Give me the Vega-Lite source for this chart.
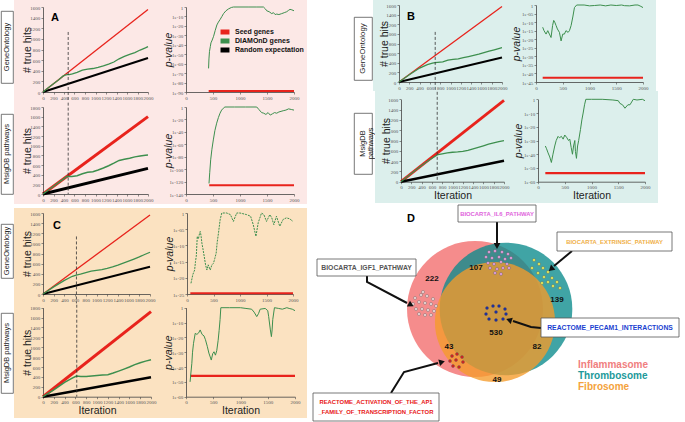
{
"$schema": "https://vega.github.io/schema/vega-lite/v6.json",
"background": "white",
"padding": {"left": 0, "top": 0, "right": 0, "bottom": 0},
"config": {
  "view": {"stroke": null},
  "font": "Liberation Sans",
  "axis": {"labelFont": "Liberation Serif", "labelFontSize": 5, "labelColor": "#555", "domainColor": "#444", "domainWidth": 0.8, "tickColor": "#444", "tickSize": 2, "tickWidth": 0.6, "labelPadding": 1.2, "titleFont": "Liberation Sans", "titleFontSize": 10.5, "titleFontWeight": "normal", "titleColor": "#222", "grid": false, "labelOverlap": false, "labelFlush": false, "titlePadding": 0.5}
},
"datasets": {
  "aGoH": [
    {"i":0,"h":0,"s":"S"},{"i":2000,"h":1555,"s":"S"},
    {"i":0,"h":0,"s":"R"},{"i":2000,"h":640,"s":"R"},
    {"i":0,"h":0,"s":"D"},{"i":100,"h":78,"s":"D"},{"i":200,"h":155,"s":"D"},{"i":300,"h":232,"s":"D"},{"i":380,"h":298,"s":"D"},{"i":420,"h":318,"s":"D"},{"i":460,"h":326,"s":"D"},{"i":500,"h":328,"s":"D"},{"i":560,"h":342,"s":"D"},{"i":650,"h":368,"s":"D"},{"i":750,"h":410,"s":"D"},{"i":850,"h":430,"s":"D"},{"i":950,"h":442,"s":"D"},{"i":1050,"h":462,"s":"D"},{"i":1150,"h":492,"s":"D"},{"i":1250,"h":525,"s":"D"},{"i":1350,"h":565,"s":"D"},{"i":1450,"h":625,"s":"D"},{"i":1550,"h":672,"s":"D"},{"i":1650,"h":710,"s":"D"},{"i":1750,"h":742,"s":"D"},{"i":1850,"h":790,"s":"D"},{"i":1950,"h":832,"s":"D"},{"i":2000,"h":855,"s":"D"}
  ],
  "aMsH": [
    {"i":0,"h":0,"s":"S"},{"i":2000,"h":1600,"s":"S"},
    {"i":0,"h":0,"s":"R"},{"i":2000,"h":530,"s":"R"},
    {"i":0,"h":0,"s":"D"},{"i":200,"h":160,"s":"D"},{"i":400,"h":320,"s":"D"},{"i":460,"h":368,"s":"D"},{"i":490,"h":360,"s":"D"},{"i":550,"h":362,"s":"D"},{"i":650,"h":378,"s":"D"},{"i":750,"h":418,"s":"D"},{"i":850,"h":448,"s":"D"},{"i":950,"h":462,"s":"D"},{"i":1050,"h":498,"s":"D"},{"i":1150,"h":538,"s":"D"},{"i":1250,"h":585,"s":"D"},{"i":1350,"h":638,"s":"D"},{"i":1450,"h":695,"s":"D"},{"i":1550,"h":718,"s":"D"},{"i":1650,"h":740,"s":"D"},{"i":1750,"h":768,"s":"D"},{"i":1850,"h":788,"s":"D"},{"i":1950,"h":803,"s":"D"},{"i":2000,"h":808,"s":"D"}
  ],
  "bGoH": [
    {"i":0,"h":0,"s":"S"},{"i":2000,"h":1570,"s":"S"},
    {"i":0,"h":0,"s":"R"},{"i":2000,"h":510,"s":"R"},
    {"i":0,"h":0,"s":"D"},{"i":200,"h":150,"s":"D"},{"i":400,"h":290,"s":"D"},{"i":550,"h":360,"s":"D"},{"i":650,"h":392,"s":"D"},{"i":700,"h":402,"s":"D"},{"i":750,"h":408,"s":"D"},{"i":850,"h":420,"s":"D"},{"i":950,"h":455,"s":"D"},{"i":1050,"h":470,"s":"D"},{"i":1150,"h":482,"s":"D"},{"i":1250,"h":505,"s":"D"},{"i":1350,"h":528,"s":"D"},{"i":1450,"h":552,"s":"D"},{"i":1550,"h":578,"s":"D"},{"i":1650,"h":610,"s":"D"},{"i":1750,"h":640,"s":"D"},{"i":1850,"h":670,"s":"D"},{"i":1950,"h":700,"s":"D"},{"i":2000,"h":712,"s":"D"}
  ],
  "bMsH": [
    {"i":0,"h":0,"s":"S"},{"i":2000,"h":1580,"s":"S"},
    {"i":0,"h":0,"s":"R"},{"i":2000,"h":408,"s":"R"},
    {"i":0,"h":0,"s":"D"},{"i":200,"h":160,"s":"D"},{"i":400,"h":315,"s":"D"},{"i":550,"h":420,"s":"D"},{"i":680,"h":505,"s":"D"},{"i":720,"h":528,"s":"D"},{"i":800,"h":542,"s":"D"},{"i":900,"h":558,"s":"D"},{"i":1000,"h":572,"s":"D"},{"i":1100,"h":578,"s":"D"},{"i":1200,"h":590,"s":"D"},{"i":1300,"h":610,"s":"D"},{"i":1400,"h":638,"s":"D"},{"i":1500,"h":668,"s":"D"},{"i":1600,"h":698,"s":"D"},{"i":1700,"h":728,"s":"D"},{"i":1800,"h":752,"s":"D"},{"i":1900,"h":778,"s":"D"},{"i":2000,"h":797,"s":"D"}
  ],
  "cGoH": [
    {"i":0,"h":0,"s":"S"},{"i":2000,"h":1560,"s":"S"},
    {"i":0,"h":0,"s":"R"},{"i":2000,"h":540,"s":"R"},
    {"i":0,"h":0,"s":"D"},{"i":200,"h":140,"s":"D"},{"i":400,"h":270,"s":"D"},{"i":550,"h":350,"s":"D"},{"i":620,"h":375,"s":"D"},{"i":700,"h":392,"s":"D"},{"i":800,"h":420,"s":"D"},{"i":900,"h":450,"s":"D"},{"i":1000,"h":468,"s":"D"},{"i":1100,"h":480,"s":"D"},{"i":1200,"h":505,"s":"D"},{"i":1300,"h":535,"s":"D"},{"i":1400,"h":570,"s":"D"},{"i":1500,"h":608,"s":"D"},{"i":1600,"h":648,"s":"D"},{"i":1700,"h":690,"s":"D"},{"i":1800,"h":732,"s":"D"},{"i":1900,"h":780,"s":"D"},{"i":2000,"h":825,"s":"D"}
  ],
  "cMsH": [
    {"i":0,"h":0,"s":"S"},{"i":2000,"h":1720,"s":"S"},
    {"i":0,"h":0,"s":"R"},{"i":2000,"h":395,"s":"R"},
    {"i":0,"h":0,"s":"D"},{"i":200,"h":140,"s":"D"},{"i":400,"h":290,"s":"D"},{"i":550,"h":380,"s":"D"},{"i":620,"h":418,"s":"D"},{"i":700,"h":408,"s":"D"},{"i":800,"h":410,"s":"D"},{"i":900,"h":418,"s":"D"},{"i":1000,"h":428,"s":"D"},{"i":1100,"h":438,"s":"D"},{"i":1200,"h":445,"s":"D"},{"i":1300,"h":478,"s":"D"},{"i":1400,"h":518,"s":"D"},{"i":1500,"h":558,"s":"D"},{"i":1600,"h":600,"s":"D"},{"i":1700,"h":648,"s":"D"},{"i":1800,"h":688,"s":"D"},{"i":1900,"h":720,"s":"D"},{"i":2000,"h":748,"s":"D"}
  ],
  "aGoP": [
    {"i":420,"p":-89,"s":"S"},{"i":2000,"p":-89,"s":"S"},
    {"i":418,"p":-65,"s":"D"},{"i":425,"p":-55,"s":"D"},{"i":435,"p":-47,"s":"D"},{"i":450,"p":-42,"s":"D"},{"i":462,"p":-38,"s":"D"},{"i":485,"p":-35,"s":"D"},{"i":511,"p":-31,"s":"D"},{"i":540,"p":-25,"s":"D"},{"i":572,"p":-19,"s":"D"},{"i":600,"p":-16,"s":"D"},{"i":634,"p":-13,"s":"D"},{"i":665,"p":-10,"s":"D"},{"i":695,"p":-7,"s":"D"},{"i":740,"p":-4,"s":"D"},{"i":788,"p":-2,"s":"D"},{"i":840,"p":-0.5,"s":"D"},{"i":880,"p":0,"s":"D"},{"i":1000,"p":0,"s":"D"},{"i":1150,"p":0,"s":"D"},{"i":1300,"p":0,"s":"D"},{"i":1434,"p":0,"s":"D"},{"i":1470,"p":-2,"s":"D"},{"i":1495,"p":-4,"s":"D"},{"i":1540,"p":-5,"s":"D"},{"i":1588,"p":-7,"s":"D"},{"i":1620,"p":-6,"s":"D"},{"i":1650,"p":-8,"s":"D"},{"i":1680,"p":-7.5,"s":"D"},{"i":1720,"p":-8,"s":"D"},{"i":1772,"p":-7,"s":"D"},{"i":1820,"p":-6,"s":"D"},{"i":1865,"p":-5,"s":"D"},{"i":1900,"p":-3.5,"s":"D"},{"i":1926,"p":-2.5,"s":"D"},{"i":1960,"p":-3,"s":"D"},{"i":2000,"p":-4,"s":"D"}
  ],
  "aMsP": [
    {"i":430,"p":-126,"s":"S"},{"i":2000,"p":-126,"s":"S"},
    {"i":426,"p":-123,"s":"D"},{"i":440,"p":-105,"s":"D"},{"i":457,"p":-85,"s":"D"},{"i":480,"p":-68,"s":"D"},{"i":506,"p":-53,"s":"D"},{"i":535,"p":-38,"s":"D"},{"i":568,"p":-26,"s":"D"},{"i":600,"p":-17,"s":"D"},{"i":630,"p":-10,"s":"D"},{"i":660,"p":-5,"s":"D"},{"i":691,"p":-2,"s":"D"},{"i":720,"p":0,"s":"D"},{"i":900,"p":0,"s":"D"},{"i":1100,"p":0,"s":"D"},{"i":1310,"p":0,"s":"D"},{"i":1350,"p":-4,"s":"D"},{"i":1400,"p":-9,"s":"D"},{"i":1440,"p":-10,"s":"D"},{"i":1480,"p":-12,"s":"D"},{"i":1520,"p":-9,"s":"D"},{"i":1560,"p":-13,"s":"D"},{"i":1600,"p":-11,"s":"D"},{"i":1640,"p":-9,"s":"D"},{"i":1680,"p":-10,"s":"D"},{"i":1720,"p":-8,"s":"D"},{"i":1760,"p":-7,"s":"D"},{"i":1800,"p":-6,"s":"D"},{"i":1850,"p":-5,"s":"D"},{"i":1900,"p":-3,"s":"D"},{"i":1950,"p":-4,"s":"D"},{"i":2000,"p":-5,"s":"D"}
  ],
  "bGoP": [
    {"i":125,"p":-42.5,"s":"S"},{"i":2000,"p":-42.5,"s":"S"},
    {"i":125,"p":-13,"s":"D"},{"i":150,"p":-15,"s":"D"},{"i":188,"p":-17,"s":"D"},{"i":220,"p":-15,"s":"D"},{"i":250,"p":-17,"s":"D"},{"i":281,"p":-19,"s":"D"},{"i":310,"p":-12,"s":"D"},{"i":331,"p":-9,"s":"D"},{"i":350,"p":-10,"s":"D"},{"i":375,"p":-12,"s":"D"},{"i":400,"p":-14,"s":"D"},{"i":438,"p":-16,"s":"D"},{"i":469,"p":-21,"s":"D"},{"i":500,"p":-17,"s":"D"},{"i":531,"p":-17,"s":"D"},{"i":560,"p":-15,"s":"D"},{"i":600,"p":-16,"s":"D"},{"i":625,"p":-15,"s":"D"},{"i":656,"p":-12,"s":"D"},{"i":688,"p":-7,"s":"D"},{"i":719,"p":-1.5,"s":"D"},{"i":760,"p":0,"s":"D"},{"i":900,"p":0,"s":"D"},{"i":1000,"p":-0.5,"s":"D"},{"i":1094,"p":-0.3,"s":"D"},{"i":1200,"p":0,"s":"D"},{"i":1300,"p":-0.5,"s":"D"},{"i":1400,"p":0,"s":"D"},{"i":1500,"p":-0.3,"s":"D"},{"i":1600,"p":0,"s":"D"},{"i":1656,"p":-0.4,"s":"D"},{"i":1750,"p":-0.5,"s":"D"},{"i":1850,"p":0,"s":"D"},{"i":1906,"p":0,"s":"D"},{"i":1960,"p":-0.8,"s":"D"},{"i":2000,"p":-1.5,"s":"D"}
  ],
  "bMsP": [
    {"i":137,"p":-53.8,"s":"S"},{"i":2000,"p":-53.8,"s":"S"},
    {"i":137,"p":-34,"s":"D"},{"i":160,"p":-36,"s":"D"},{"i":188,"p":-39,"s":"D"},{"i":220,"p":-42,"s":"D"},{"i":250,"p":-46,"s":"D"},{"i":280,"p":-40,"s":"D"},{"i":313,"p":-34,"s":"D"},{"i":340,"p":-30,"s":"D"},{"i":375,"p":-27,"s":"D"},{"i":400,"p":-28,"s":"D"},{"i":438,"p":-27,"s":"D"},{"i":470,"p":-29,"s":"D"},{"i":500,"p":-26,"s":"D"},{"i":540,"p":-28,"s":"D"},{"i":570,"p":-30,"s":"D"},{"i":594,"p":-29,"s":"D"},{"i":620,"p":-35,"s":"D"},{"i":644,"p":-40,"s":"D"},{"i":665,"p":-34,"s":"D"},{"i":688,"p":-30,"s":"D"},{"i":700,"p":-38,"s":"D"},{"i":719,"p":-43,"s":"D"},{"i":740,"p":-34,"s":"D"},{"i":760,"p":-30,"s":"D"},{"i":794,"p":-22,"s":"D"},{"i":820,"p":-15,"s":"D"},{"i":844,"p":-10,"s":"D"},{"i":870,"p":-4,"s":"D"},{"i":894,"p":0,"s":"D"},{"i":1000,"p":0,"s":"D"},{"i":1200,"p":0,"s":"D"},{"i":1400,"p":-0.5,"s":"D"},{"i":1500,"p":-1,"s":"D"},{"i":1531,"p":-3,"s":"D"},{"i":1580,"p":-4,"s":"D"},{"i":1625,"p":-6.5,"s":"D"},{"i":1680,"p":-4,"s":"D"},{"i":1719,"p":-4,"s":"D"},{"i":1781,"p":0,"s":"D"},{"i":1850,"p":-0.5,"s":"D"},{"i":1950,"p":0,"s":"D"},{"i":2000,"p":-1,"s":"D"}
  ],
  "cGoP": [
    {"i":63,"p":-24.8,"s":"S"},{"i":2000,"p":-24.8,"s":"S"},
    {"i":75,"p":-21.7,"s":"D"},{"i":110,"p":-19,"s":"D"},{"i":144,"p":-17.6,"s":"D"},{"i":160,"p":-15,"s":"D"},{"i":175,"p":-13.4,"s":"D"},{"i":194,"p":-7.2,"s":"D"},{"i":215,"p":-8,"s":"D"},{"i":238,"p":-6.2,"s":"D"},{"i":250,"p":-5.7,"s":"D"},{"i":265,"p":-7,"s":"D"},{"i":281,"p":-9.3,"s":"D"},{"i":300,"p":-11,"s":"D"},{"i":325,"p":-13.4,"s":"D"},{"i":350,"p":-16,"s":"D"},{"i":375,"p":-17.6,"s":"D"},{"i":400,"p":-16,"s":"D"},{"i":438,"p":-17.6,"s":"D"},{"i":470,"p":-16,"s":"D"},{"i":500,"p":-15.5,"s":"D"},{"i":525,"p":-14,"s":"D"},{"i":550,"p":-12.4,"s":"D"},{"i":570,"p":-9,"s":"D"},{"i":594,"p":-6.2,"s":"D"},{"i":625,"p":-2.1,"s":"D"},{"i":656,"p":0,"s":"D"},{"i":750,"p":0,"s":"D"},{"i":820,"p":-0.5,"s":"D"},{"i":875,"p":-2.6,"s":"D"},{"i":938,"p":0,"s":"D"},{"i":1000,"p":0,"s":"D"},{"i":1125,"p":-0.5,"s":"D"},{"i":1200,"p":-1,"s":"D"},{"i":1250,"p":-3.6,"s":"D"},{"i":1300,"p":-7.2,"s":"D"},{"i":1344,"p":-3,"s":"D"},{"i":1406,"p":0,"s":"D"},{"i":1450,"p":-0.5,"s":"D"},{"i":1500,"p":-2.6,"s":"D"},{"i":1563,"p":-0.5,"s":"D"},{"i":1600,"p":-1.5,"s":"D"},{"i":1638,"p":-3.6,"s":"D"},{"i":1688,"p":-1,"s":"D"},{"i":1750,"p":-4.1,"s":"D"},{"i":1813,"p":-2,"s":"D"},{"i":1875,"p":-1.5,"s":"D"},{"i":1938,"p":-1.8,"s":"D"},{"i":2000,"p":-2.6,"s":"D"}
  ],
  "cMsP": [
    {"i":75,"p":-46,"s":"S"},{"i":2000,"p":-46,"s":"S"},
    {"i":75,"p":-50,"s":"D"},{"i":90,"p":-44,"s":"D"},{"i":107,"p":-37.5,"s":"D"},{"i":120,"p":-30,"s":"D"},{"i":138,"p":-24,"s":"D"},{"i":169,"p":-17.3,"s":"D"},{"i":200,"p":-18,"s":"D"},{"i":232,"p":-17,"s":"D"},{"i":260,"p":-15,"s":"D"},{"i":295,"p":-18,"s":"D"},{"i":330,"p":-19,"s":"D"},{"i":357,"p":-21.6,"s":"D"},{"i":390,"p":-26,"s":"D"},{"i":420,"p":-30.6,"s":"D"},{"i":464,"p":-35.3,"s":"D"},{"i":490,"p":-31,"s":"D"},{"i":514,"p":-29.7,"s":"D"},{"i":540,"p":-32,"s":"D"},{"i":564,"p":-29,"s":"D"},{"i":590,"p":-22,"s":"D"},{"i":608,"p":-15.3,"s":"D"},{"i":625,"p":-8,"s":"D"},{"i":639,"p":0,"s":"D"},{"i":800,"p":0,"s":"D"},{"i":1000,"p":0,"s":"D"},{"i":1100,"p":-0.5,"s":"D"},{"i":1204,"p":-1,"s":"D"},{"i":1250,"p":-3,"s":"D"},{"i":1298,"p":-6,"s":"D"},{"i":1330,"p":-4,"s":"D"},{"i":1361,"p":-1,"s":"D"},{"i":1454,"p":-0.5,"s":"D"},{"i":1500,"p":-2,"s":"D"},{"i":1517,"p":-6,"s":"D"},{"i":1548,"p":-15,"s":"D"},{"i":1567,"p":-19.5,"s":"D"},{"i":1580,"p":-15,"s":"D"},{"i":1592,"p":-8,"s":"D"},{"i":1623,"p":0,"s":"D"},{"i":1700,"p":-0.5,"s":"D"},{"i":1768,"p":-1,"s":"D"},{"i":1850,"p":0,"s":"D"},{"i":1893,"p":-0.5,"s":"D"},{"i":1950,"p":-1,"s":"D"},{"i":2000,"p":-2,"s":"D"}
  ],
  "venn": [
    {"set":"Inflammasome","n":902,"x":136,"y":111},
    {"set":"Thrombosome","n":858,"x":167,"y":111},
    {"set":"Fibrosome","n":704,"x":156,"y":124}
  ],
  "clusters": [
    {"cl":"IL6","x":150,"y":54},{"cl":"IL6","x":156,"y":53},{"cl":"IL6","x":163,"y":54},{"cl":"IL6","x":169,"y":56},{"cl":"IL6","x":147,"y":59},{"cl":"IL6","x":153,"y":60},{"cl":"IL6","x":160,"y":59},{"cl":"IL6","x":166,"y":61},{"cl":"IL6","x":172,"y":60},{"cl":"IL6","x":149,"y":65},{"cl":"IL6","x":155,"y":66},{"cl":"IL6","x":162,"y":64},{"cl":"IL6","x":168,"y":66},{"cl":"IL6","x":151,"y":70},{"cl":"IL6","x":158,"y":71},{"cl":"IL6","x":164,"y":70},{"cl":"IL6","x":170,"y":70},{"cl":"IL6","x":156,"y":75},{"cl":"IL6","x":162,"y":76},
    {"cl":"EXT","x":195,"y":62},{"cl":"EXT","x":200,"y":66},{"cl":"EXT","x":193,"y":70},{"cl":"EXT","x":204,"y":70},{"cl":"EXT","x":199,"y":75},{"cl":"EXT","x":209,"y":74},{"cl":"EXT","x":205,"y":79},{"cl":"EXT","x":213,"y":80},{"cl":"EXT","x":209,"y":84},{"cl":"EXT","x":218,"y":84},{"cl":"EXT","x":214,"y":88},{"cl":"EXT","x":221,"y":90},{"cl":"EXT","x":203,"y":85},
    {"cl":"IGF1","x":76,"y":100},{"cl":"IGF1","x":82,"y":97},{"cl":"IGF1","x":88,"y":98},{"cl":"IGF1","x":94,"y":101},{"cl":"IGF1","x":74,"y":106},{"cl":"IGF1","x":80,"y":104},{"cl":"IGF1","x":86,"y":105},{"cl":"IGF1","x":92,"y":106},{"cl":"IGF1","x":97,"y":108},{"cl":"IGF1","x":77,"y":111},{"cl":"IGF1","x":83,"y":111},{"cl":"IGF1","x":89,"y":112},{"cl":"IGF1","x":95,"y":113},{"cl":"IGF1","x":80,"y":116},{"cl":"IGF1","x":86,"y":117},{"cl":"IGF1","x":92,"y":117},{"cl":"IGF1","x":84,"y":94},
    {"cl":"PECAM1","x":148,"y":110},{"cl":"PECAM1","x":154,"y":108},{"cl":"PECAM1","x":160,"y":108},{"cl":"PECAM1","x":166,"y":111},{"cl":"PECAM1","x":147,"y":116},{"cl":"PECAM1","x":167,"y":116},{"cl":"PECAM1","x":150,"y":121},{"cl":"PECAM1","x":157,"y":122},{"cl":"PECAM1","x":164,"y":121},{"cl":"PECAM1","x":157,"y":114},
    {"cl":"AP1","x":113,"y":158},{"cl":"AP1","x":118,"y":156},{"cl":"AP1","x":123,"y":159},{"cl":"AP1","x":111,"y":163},{"cl":"AP1","x":117,"y":162},{"cl":"AP1","x":124,"y":164},{"cl":"AP1","x":114,"y":168},{"cl":"AP1","x":120,"y":169}
  ],
  "counts": [
    {"t":"222","x":93,"y":81},{"t":"107","x":137,"y":70},{"t":"139","x":218,"y":102},{"t":"530","x":157,"y":135},{"t":"43","x":110,"y":149},{"t":"82","x":198,"y":149},{"t":"49","x":158,"y":182}
  ],
  "boxes": [
    {"b":"IL6","x":119,"x2":197,"y":7,"y2":24},
    {"b":"EXT","x":218,"x2":333,"y":34,"y2":53},
    {"b":"IGF1","x":-22,"x2":77,"y":61,"y2":78},
    {"b":"PECAM1","x":202,"x2":340,"y":120,"y2":139},
    {"b":"AP1","x":-26,"x2":100,"y":195,"y2":223}
  ],
  "boxLabels": [
    {"b":"IL6","t":"BIOCARTA_IL6_PATHWAY","x":158,"y":15.5},
    {"b":"EXT","t":"BIOCARTA_EXTRINSIC_PATHWAY","x":275.5,"y":43.5},
    {"b":"IGF1","t":"BIOCARTA_IGF1_PATHWAY","x":27.5,"y":69.5},
    {"b":"PECAM1","t":"REACTOME_PECAM1_INTERACTIONS","x":271,"y":129.5},
    {"b":"AP1","t":"REACTOME_ACTIVATION_OF_THE_AP1","x":37,"y":204},
    {"b":"AP1","t":"_FAMILY_OF_TRANSCRIPTION_FACTOR","x":37,"y":214}
  ],
  "arrows": [
    {"a":"IL6","o":1,"x":158,"y":24},{"a":"IL6","o":2,"x":158,"y":45},
    {"a":"EXT","o":1,"x":233,"y":53},{"a":"EXT","o":2,"x":215,"y":68},
    {"a":"IGF1","o":1,"x":28,"y":78},{"a":"IGF1","o":2,"x":28,"y":84},{"a":"IGF1","o":3,"x":68,"y":105},
    {"a":"PECAM1","o":1,"x":202,"y":130},{"a":"PECAM1","o":2,"x":192,"y":129},{"a":"PECAM1","o":3,"x":174,"y":123},
    {"a":"AP1","o":1,"x":52,"y":195},{"a":"AP1","o":2,"x":65,"y":174},{"a":"AP1","o":3,"x":99,"y":165}
  ],
  "heads": [
    {"a":"IL6","x":158,"y":48,"deg":180},
    {"a":"EXT","x":212,"y":71,"deg":229},
    {"a":"IGF1","x":72,"y":107,"deg":118},
    {"a":"PECAM1","x":170,"y":122,"deg":288},
    {"a":"AP1","x":103,"y":164,"deg":75}
  ],
  "legendD": [
    {"set":"Inflammasome","x":239,"y":166.5},
    {"set":"Thrombosome","x":239,"y":177.5},
    {"set":"Fibrosome","x":239,"y":188.5}
  ]
},
"hconcat": [
  {
    "vconcat": [
      {
        "vconcat": [
          {
            "hconcat": [
              {"vconcat": [
                {"width": 12, "height": 10, "data": {"values": []}, "mark": "point"},
                {"width": 12, "height": 72, "data": {"values": [{}]}, "view": {"stroke": "#555", "strokeWidth": 0.8, "fill": "white"}, "mark": {"type": "text", "angle": 270, "fontSize": 7.5, "color": "#222"}, "encoding": {"text": {"value": "GeneOntology"}}}
              ], "spacing": 0},
              {
                "width": 146, "height": 102, "view": {"fill": "#fce8e6", "stroke": null},
                "data": {"name": "aGoH"},
                "encoding": {
                  "x": {"field": "i", "type": "quantitative", "scale": {"domain": [0, 2000], "range": [29, 134], "nice": false, "zero": false}, "axis": {"values": [0,200,400,600,800,1000,1200,1400,1600,1800,2000], "format": "d", "offset": -10, "title": null}},
                  "y": {"field": "h", "type": "quantitative", "scale": {"domain": [0, 1600], "range": [92, 7], "nice": false, "zero": false}, "axis": {"values": [0,200,400,600,800,1000,1200,1400,1600], "format": "d", "offset": -29, "title": "# true hits", "titleX": -10.5}},
                  "color": {"field": "s", "type": "nominal", "scale": {"domain": ["S","D","R"], "range": ["#e8231c","#3d8f4e","#000000"]}, "legend": null}
                },
                "layer": [
                  {"transform": [{"filter": "datum.s == 'S'"}], "mark": {"type": "line", "strokeWidth": 1.3}},
                  {"transform": [{"filter": "datum.s == 'R'"}], "mark": {"type": "line", "strokeWidth": 2}},
                  {"transform": [{"filter": "datum.s == 'D'"}], "mark": {"type": "line", "strokeWidth": 1.3}},
                  {"data": {"values": [{"i": 480, "h": 1130, "h2": -175}]}, "mark": {"type": "rule", "strokeDash": [3, 2], "strokeWidth": 0.8}, "encoding": {"y2": {"field": "h2"}, "color": {"value": "#333"}}},
                  {"data": {"values": [{"i": 229, "h": 1393}]}, "mark": {"type": "text", "fontWeight": "bold", "fontSize": 11}, "encoding": {"text": {"value": "A"}, "color": {"value": "#000"}}}
                ]
              },
              {
                "width": 147, "height": 102, "view": {"fill": "#fce8e6", "stroke": null},
                "data": {"name": "aGoP"},
                "encoding": {
                  "x": {"field": "i", "type": "quantitative", "scale": {"domain": [0, 2000], "range": [26, 134], "nice": false, "zero": false}, "axis": {"values": [0,500,1000,1500,2000], "format": "d", "offset": -10, "title": null}},
                  "y": {"field": "p", "type": "quantitative", "scale": {"domain": [-90, 0], "range": [92, 7], "nice": false, "zero": false}, "axis": {"values": [-90,-80,-70,-60,-50,-40,-30,-20,-10,0], "labelExpr": "datum.value == 0 ? '1' : '1e-' + (abs(datum.value) < 10 ? '0' : '') + abs(datum.value)", "offset": -26, "title": "p-value", "titleFontStyle": "italic", "titleX": -12.5}},
                  "color": {"field": "s", "type": "nominal", "scale": {"domain": ["S","D","R"], "range": ["#e8231c","#3d8f4e","#000000"]}, "legend": {"orient": "none", "legendX": 58, "legendY": 27.5, "title": null, "labelExpr": "datum.label == 'S' ? 'Seed genes' : datum.label == 'D' ? 'DIAMOnD genes' : 'Random expectation'", "symbolType": "stroke", "symbolStrokeWidth": 5, "symbolSize": 80, "clipHeight": 9, "labelFontSize": 7, "labelFontWeight": "bold", "labelFont": "Liberation Sans", "labelColor": "#111", "rowPadding": 0, "labelOffset": 3}}
                },
                "layer": [
                  {"transform": [{"filter": "datum.s == 'S'"}], "mark": {"type": "line", "strokeWidth": 2}},
                  {"transform": [{"filter": "datum.s == 'D'"}], "mark": {"type": "line", "strokeWidth": 1}}
                ]
              }
            ],
            "spacing": 0,
            "resolve": {"scale": {"color": "independent"}, "legend": {"color": "independent"}}
          },
          {
            "hconcat": [
              {"vconcat": [
                {"width": 12, "height": 11, "data": {"values": []}, "mark": "point"},
                {"width": 12, "height": 80, "data": {"values": [{}]}, "view": {"stroke": "#555", "strokeWidth": 0.8, "fill": "white"}, "mark": {"type": "text", "angle": 270, "fontSize": 7.5, "color": "#222"}, "encoding": {"text": {"value": "MsigDB pathways"}}}
              ], "spacing": 0},
              {
                "width": 146, "height": 102, "view": {"fill": "#fce8e6", "stroke": null},
                "data": {"name": "aMsH"},
                "encoding": {
                  "x": {"field": "i", "type": "quantitative", "scale": {"domain": [0, 2000], "range": [29, 134], "nice": false, "zero": false}, "axis": {"values": [0,200,400,600,800,1000,1200,1400,1600,1800,2000], "format": "d", "offset": -10, "title": null}},
                  "y": {"field": "h", "type": "quantitative", "scale": {"domain": [0, 1800], "range": [92, 5], "nice": false, "zero": false}, "axis": {"values": [0,200,400,600,800,1000,1200,1400,1600,1800], "format": "d", "offset": -29, "title": "# true hits", "titleX": -10.5}},
                  "color": {"field": "s", "type": "nominal", "scale": {"domain": ["S","D","R"], "range": ["#e8231c","#3d8f4e","#000000"]}, "legend": null}
                },
                "layer": [
                  {"transform": [{"filter": "datum.s == 'S'"}], "mark": {"type": "line", "strokeWidth": 3}},
                  {"transform": [{"filter": "datum.s == 'R'"}], "mark": {"type": "line", "strokeWidth": 3}},
                  {"transform": [{"filter": "datum.s == 'D'"}], "mark": {"type": "line", "strokeWidth": 1.5}},
                  {"data": {"values": [{"i": 480, "h": 1890, "h2": 0}]}, "mark": {"type": "rule", "strokeDash": [3, 2], "strokeWidth": 0.8}, "encoding": {"y2": {"field": "h2"}, "color": {"value": "#333"}}}
                ]
              },
              {
                "width": 147, "height": 102, "view": {"fill": "#fce8e6", "stroke": null},
                "data": {"name": "aMsP"},
                "encoding": {
                  "x": {"field": "i", "type": "quantitative", "scale": {"domain": [0, 2000], "range": [26, 134], "nice": false, "zero": false}, "axis": {"values": [0,500,1000,1500,2000], "format": "d", "offset": -10, "title": null}},
                  "y": {"field": "p", "type": "quantitative", "scale": {"domain": [-140, 0], "range": [92, 5], "nice": false, "zero": false}, "axis": {"values": [-140,-120,-100,-80,-60,-40,-20,0], "labelExpr": "datum.value == 0 ? '1' : '1e-' + (abs(datum.value) < 10 ? '0' : '') + abs(datum.value)", "offset": -26, "title": "p-value", "titleFontStyle": "italic", "titleX": -12.5}},
                  "color": {"field": "s", "type": "nominal", "scale": {"domain": ["S","D","R"], "range": ["#e8231c","#3d8f4e","#000000"]}, "legend": null}
                },
                "layer": [
                  {"transform": [{"filter": "datum.s == 'S'"}], "mark": {"type": "line", "strokeWidth": 2}},
                  {"transform": [{"filter": "datum.s == 'D'"}], "mark": {"type": "line", "strokeWidth": 1}}
                ]
              }
            ],
            "spacing": 0,
            "resolve": {"scale": {"color": "independent"}, "legend": {"color": "independent"}}
          }
        ],
        "spacing": 0,
        "resolve": {"scale": {"color": "independent"}, "legend": {"color": "independent"}}
      },
      {
        "vconcat": [
          {
            "hconcat": [
              {"vconcat": [
                {"width": 12, "height": 15, "data": {"values": []}, "mark": "point"},
                {"width": 12, "height": 54, "data": {"values": [{}]}, "view": {"stroke": "#555", "strokeWidth": 0.8, "fill": "white"}, "mark": {"type": "text", "angle": 270, "fontSize": 7.5, "color": "#222"}, "encoding": {"text": {"value": "GeneOntology"}}}
              ], "spacing": 0},
              {
                "width": 146, "height": 96, "view": {"fill": "#fbe2c1", "stroke": null},
                "data": {"name": "cGoH"},
                "encoding": {
                  "x": {"field": "i", "type": "quantitative", "scale": {"domain": [0, 2000], "range": [29, 136], "nice": false, "zero": false}, "axis": {"values": [0,200,400,600,800,1000,1200,1400,1600,1800,2000], "format": "d", "offset": -10, "title": null}},
                  "y": {"field": "h", "type": "quantitative", "scale": {"domain": [0, 1600], "range": [86, 5], "nice": false, "zero": false}, "axis": {"values": [0,200,400,600,800,1000,1200,1400,1600], "format": "d", "offset": -29, "title": "# true hits", "titleX": -10.5}},
                  "color": {"field": "s", "type": "nominal", "scale": {"domain": ["S","D","R"], "range": ["#e8231c","#3d8f4e","#000000"]}, "legend": null}
                },
                "layer": [
                  {"transform": [{"filter": "datum.s == 'S'"}], "mark": {"type": "line", "strokeWidth": 1.3}},
                  {"transform": [{"filter": "datum.s == 'R'"}], "mark": {"type": "line", "strokeWidth": 2}},
                  {"transform": [{"filter": "datum.s == 'D'"}], "mark": {"type": "line", "strokeWidth": 1.3}},
                  {"data": {"values": [{"i": 625, "h": 1137, "h2": -185}]}, "mark": {"type": "rule", "strokeDash": [3, 2], "strokeWidth": 0.8}, "encoding": {"y2": {"field": "h2"}, "color": {"value": "#333"}}},
                  {"data": {"values": [{"i": 262, "h": 1343}]}, "mark": {"type": "text", "fontWeight": "bold", "fontSize": 11}, "encoding": {"text": {"value": "C"}, "color": {"value": "#000"}}}
                ]
              },
              {
                "width": 147, "height": 96, "view": {"fill": "#fbe2c1", "stroke": null},
                "data": {"name": "cGoP"},
                "encoding": {
                  "x": {"field": "i", "type": "quantitative", "scale": {"domain": [0, 2000], "range": [27, 133], "nice": false, "zero": false}, "axis": {"values": [0,500,1000,1500,2000], "format": "d", "offset": -10, "title": null}},
                  "y": {"field": "p", "type": "quantitative", "scale": {"domain": [-25, 0], "range": [86, 5], "nice": false, "zero": false}, "axis": {"values": [-25,-20,-15,-10,-5,0], "labelExpr": "datum.value == 0 ? '1' : '1e-' + (abs(datum.value) < 10 ? '0' : '') + abs(datum.value)", "offset": -27, "title": "p-value", "titleFontStyle": "italic", "titleX": -13}},
                  "color": {"field": "s", "type": "nominal", "scale": {"domain": ["S","D","R"], "range": ["#e8231c","#3d8f4e","#000000"]}, "legend": null}
                },
                "layer": [
                  {"transform": [{"filter": "datum.s == 'S'"}], "mark": {"type": "line", "strokeWidth": 2}},
                  {"transform": [{"filter": "datum.s == 'D'"}], "mark": {"type": "line", "strokeWidth": 1, "strokeDash": [2, 1]}}
                ]
              }
            ],
            "spacing": 0,
            "resolve": {"scale": {"color": "independent"}, "legend": {"color": "independent"}}
          },
          {
            "hconcat": [
              {"vconcat": [
                {"width": 12, "height": 8, "data": {"values": []}, "mark": "point"},
                {"width": 12, "height": 80, "data": {"values": [{}]}, "view": {"stroke": "#555", "strokeWidth": 0.8, "fill": "white"}, "mark": {"type": "text", "angle": 270, "fontSize": 7.5, "color": "#222"}, "encoding": {"text": {"value": "MsigDB pathways"}}}
              ], "spacing": 0},
              {
                "width": 146, "height": 114, "view": {"fill": "#fbe2c1", "stroke": null},
                "data": {"name": "cMsH"},
                "encoding": {
                  "x": {"field": "i", "type": "quantitative", "scale": {"domain": [0, 2000], "range": [29, 137], "nice": false, "zero": false}, "axis": {"values": [0,200,400,600,800,1000,1200,1400,1600,1800,2000], "format": "d", "offset": -21.3, "title": "Iteration"}},
                  "y": {"field": "h", "type": "quantitative", "scale": {"domain": [0, 1800], "range": [92.7, 3.7], "nice": false, "zero": false}, "axis": {"values": [0,200,400,600,800,1000,1200,1400,1600,1800], "format": "d", "offset": -29, "title": "# true hits", "titleX": -10.5}},
                  "color": {"field": "s", "type": "nominal", "scale": {"domain": ["S","D","R"], "range": ["#e8231c","#3d8f4e","#000000"]}, "legend": null}
                },
                "layer": [
                  {"transform": [{"filter": "datum.s == 'S'"}], "mark": {"type": "line", "strokeWidth": 3}},
                  {"transform": [{"filter": "datum.s == 'R'"}], "mark": {"type": "line", "strokeWidth": 2.5}},
                  {"transform": [{"filter": "datum.s == 'D'"}], "mark": {"type": "line", "strokeWidth": 1.5}},
                  {"data": {"values": [{"i": 625, "h": 1860, "h2": 0}]}, "mark": {"type": "rule", "strokeDash": [3, 2], "strokeWidth": 0.8}, "encoding": {"y2": {"field": "h2"}, "color": {"value": "#333"}}}
                ]
              },
              {
                "width": 147, "height": 114, "view": {"fill": "#fbe2c1", "stroke": null},
                "data": {"name": "cMsP"},
                "encoding": {
                  "x": {"field": "i", "type": "quantitative", "scale": {"domain": [0, 2000], "range": [26, 135], "nice": false, "zero": false}, "axis": {"values": [0,500,1000,1500,2000], "format": "d", "offset": -21.3, "title": "Iteration"}},
                  "y": {"field": "p", "type": "quantitative", "scale": {"domain": [-60, 0], "range": [92.7, 3.7], "nice": false, "zero": false}, "axis": {"values": [-60,-50,-40,-30,-20,-10,0], "labelExpr": "datum.value == 0 ? '1' : '1e-' + (abs(datum.value) < 10 ? '0' : '') + abs(datum.value)", "offset": -26, "title": "p-value", "titleFontStyle": "italic", "titleX": -12.5}},
                  "color": {"field": "s", "type": "nominal", "scale": {"domain": ["S","D","R"], "range": ["#e8231c","#3d8f4e","#000000"]}, "legend": null}
                },
                "layer": [
                  {"transform": [{"filter": "datum.s == 'S'"}], "mark": {"type": "line", "strokeWidth": 2.2}},
                  {"transform": [{"filter": "datum.s == 'D'"}], "mark": {"type": "line", "strokeWidth": 1}}
                ]
              }
            ],
            "spacing": 0,
            "resolve": {"scale": {"color": "independent"}, "legend": {"color": "independent"}}
          }
        ],
        "spacing": 0,
        "resolve": {"scale": {"color": "independent"}, "legend": {"color": "independent"}}
      }
    ],
    "spacing": 4,
    "resolve": {"scale": {"color": "independent"}, "legend": {"color": "independent"}}
  },
  {
    "vconcat": [
      {
        "vconcat": [
          {
            "hconcat": [
              {"width": 41, "height": 10, "data": {"values": []}, "mark": "point"},
              {"vconcat": [
                {"width": 18, "height": 16, "data": {"values": []}, "mark": "point"},
                {"width": 18, "height": 63, "data": {"values": [{}]}, "view": {"stroke": "#555", "strokeWidth": 0.8, "fill": "white"}, "mark": {"type": "text", "angle": 270, "fontSize": 7.8, "color": "#222"}, "encoding": {"text": {"value": "GeneOntology"}}}
              ], "spacing": 0},
              {
                "width": 136, "height": 91, "view": {"fill": "#dcefec", "stroke": null},
                "data": {"name": "bGoH"},
                "encoding": {
                  "x": {"field": "i", "type": "quantitative", "scale": {"domain": [0, 2000], "range": [26, 129], "nice": false, "zero": false}, "axis": {"values": [0,200,400,600,800,1000,1200,1400,1600,1800,2000], "format": "d", "offset": -9, "title": null}},
                  "y": {"field": "h", "type": "quantitative", "scale": {"domain": [0, 1600], "range": [82, 5], "nice": false, "zero": false}, "axis": {"values": [0,200,400,600,800,1000,1200,1400,1600], "format": "d", "offset": -26, "title": "# true hits", "titleX": -10}},
                  "color": {"field": "s", "type": "nominal", "scale": {"domain": ["S","D","R"], "range": ["#e8231c","#3d8f4e","#000000"]}, "legend": null}
                },
                "layer": [
                  {"transform": [{"filter": "datum.s == 'S'"}], "mark": {"type": "line", "strokeWidth": 1.3}},
                  {"transform": [{"filter": "datum.s == 'R'"}], "mark": {"type": "line", "strokeWidth": 2}},
                  {"transform": [{"filter": "datum.s == 'D'"}], "mark": {"type": "line", "strokeWidth": 1.3}},
                  {"data": {"values": [{"i": 703, "h": 1041, "h2": -175}]}, "mark": {"type": "rule", "strokeDash": [3, 2], "strokeWidth": 0.8}, "encoding": {"y2": {"field": "h2"}, "color": {"value": "#333"}}},
                  {"data": {"values": [{"i": 233, "h": 1345}]}, "mark": {"type": "text", "fontWeight": "bold", "fontSize": 11}, "encoding": {"text": {"value": "B"}, "color": {"value": "#000"}}}
                ]
              },
              {
                "width": 147, "height": 91, "view": {"fill": "#dcefec", "stroke": null},
                "data": {"name": "bGoP"},
                "encoding": {
                  "x": {"field": "i", "type": "quantitative", "scale": {"domain": [0, 2000], "range": [27, 134], "nice": false, "zero": false}, "axis": {"values": [0,500,1000,1500,2000], "format": "d", "offset": -9, "title": null}},
                  "y": {"field": "p", "type": "quantitative", "scale": {"domain": [-45, 0], "range": [82, 5], "nice": false, "zero": false}, "axis": {"values": [-45,-40,-35,-30,-25,-20,-15,-10,-5,0], "labelExpr": "datum.value == 0 ? '1' : '1e-' + (abs(datum.value) < 10 ? '0' : '') + abs(datum.value)", "offset": -27, "title": "p-value", "titleFontStyle": "italic", "titleX": -14.5}},
                  "color": {"field": "s", "type": "nominal", "scale": {"domain": ["S","D","R"], "range": ["#e8231c","#3d8f4e","#000000"]}, "legend": null}
                },
                "layer": [
                  {"transform": [{"filter": "datum.s == 'S'"}], "mark": {"type": "line", "strokeWidth": 2}},
                  {"transform": [{"filter": "datum.s == 'D'"}], "mark": {"type": "line", "strokeWidth": 1}}
                ]
              }
            ],
            "spacing": 0,
            "resolve": {"scale": {"color": "independent"}, "legend": {"color": "independent"}}
          },
          {
            "hconcat": [
              {"width": 41, "height": 10, "data": {"values": []}, "mark": "point"},
              {"vconcat": [
                {"width": 18, "height": 21, "data": {"values": []}, "mark": "point"},
                {"width": 18, "height": 61, "data": {"values": [{}]}, "view": {"stroke": "#555", "strokeWidth": 0.8, "fill": "white"}, "mark": {"type": "text", "angle": 270, "fontSize": 7.5, "color": "#222", "lineHeight": 8}, "encoding": {"text": {"value": ["MsigDB", "pathways"]}}}
              ], "spacing": 0},
              {
                "width": 136, "height": 112, "view": {"fill": "#dcefec", "stroke": null},
                "data": {"name": "bMsH"},
                "encoding": {
                  "x": {"field": "i", "type": "quantitative", "scale": {"domain": [0, 2000], "range": [26, 129], "nice": false, "zero": false}, "axis": {"values": [0,200,400,600,800,1000,1200,1400,1600,1800,2000], "format": "d", "offset": -21.3, "title": "Iteration"}},
                  "y": {"field": "h", "type": "quantitative", "scale": {"domain": [0, 1600], "range": [90.7, 8.3], "nice": false, "zero": false}, "axis": {"values": [0,200,400,600,800,1000,1200,1400,1600], "format": "d", "offset": -26, "title": "# true hits", "titleX": -10}},
                  "color": {"field": "s", "type": "nominal", "scale": {"domain": ["S","D","R"], "range": ["#e8231c","#3d8f4e","#000000"]}, "legend": null}
                },
                "layer": [
                  {"transform": [{"filter": "datum.s == 'S'"}], "mark": {"type": "line", "strokeWidth": 2.8}},
                  {"transform": [{"filter": "datum.s == 'R'"}], "mark": {"type": "line", "strokeWidth": 2.5}},
                  {"transform": [{"filter": "datum.s == 'D'"}], "mark": {"type": "line", "strokeWidth": 1.3}},
                  {"data": {"values": [{"i": 703, "h": 1745, "h2": 0}]}, "mark": {"type": "rule", "strokeDash": [3, 2], "strokeWidth": 0.8}, "encoding": {"y2": {"field": "h2"}, "color": {"value": "#333"}}}
                ]
              },
              {
                "width": 147, "height": 112, "view": {"fill": "#dcefec", "stroke": null},
                "data": {"name": "bMsP"},
                "encoding": {
                  "x": {"field": "i", "type": "quantitative", "scale": {"domain": [0, 2000], "range": [27, 134], "nice": false, "zero": false}, "axis": {"values": [0,500,1000,1500,2000], "format": "d", "offset": -21.3, "title": "Iteration"}},
                  "y": {"field": "p", "type": "quantitative", "scale": {"domain": [-60, 0], "range": [90.7, 8.3], "nice": false, "zero": false}, "axis": {"values": [-60,-50,-40,-30,-20,-10,0], "labelExpr": "datum.value == 0 ? '1' : '1e-' + (abs(datum.value) < 10 ? '0' : '') + abs(datum.value)", "offset": -27, "title": "p-value", "titleFontStyle": "italic", "titleX": -14.5}},
                  "color": {"field": "s", "type": "nominal", "scale": {"domain": ["S","D","R"], "range": ["#e8231c","#3d8f4e","#000000"]}, "legend": null}
                },
                "layer": [
                  {"transform": [{"filter": "datum.s == 'S'"}], "mark": {"type": "line", "strokeWidth": 2.2}},
                  {"transform": [{"filter": "datum.s == 'D'"}], "mark": {"type": "line", "strokeWidth": 1}}
                ]
              }
            ],
            "spacing": 0,
            "resolve": {"scale": {"color": "independent"}, "legend": {"color": "independent"}}
          }
        ],
        "spacing": 0,
        "resolve": {"scale": {"color": "independent"}, "legend": {"color": "independent"}}
      },
      {
        "width": 372, "height": 219, "view": {"stroke": null},
        "encoding": {
          "x": {"field": "x", "type": "quantitative", "scale": {"domain": [-27, 345], "nice": false, "zero": false}, "axis": null},
          "y": {"field": "y", "type": "quantitative", "scale": {"domain": [5, 224], "reverse": true, "nice": false, "zero": false}, "axis": null}
        },
        "layer": [
          {"data": {"name": "venn"}, "mark": {"type": "circle", "opacity": 0.78}, "encoding": {"color": {"field": "set", "type": "nominal", "scale": {"domain": ["Inflammasome","Thrombosome","Fibrosome"], "range": ["#f26b6b","#0a8a8c","#f59b2a"]}, "legend": null}, "size": {"field": "n", "type": "quantitative", "scale": {"domain": [0, 902], "range": [0, 18496]}, "legend": null}}},
          {"data": {"name": "clusters"}, "mark": {"type": "circle", "size": 9, "stroke": "#555", "strokeWidth": 0.4, "opacity": 1}, "encoding": {"color": {"field": "cl", "type": "nominal", "scale": {"domain": ["IL6","EXT","IGF1","PECAM1","AP1"], "range": ["#e9a3e6","#eef35a","#f7dede","#1b2ba6","#d91f1f"]}, "legend": null}}},
          {"data": {"name": "arrows"}, "mark": {"type": "line", "color": "#111", "strokeWidth": 2}, "encoding": {"detail": {"field": "a"}, "order": {"field": "o", "type": "quantitative"}}},
          {"data": {"name": "heads"}, "mark": {"type": "point", "shape": "triangle-up", "filled": true, "color": "#111", "size": 45, "opacity": 1}, "encoding": {"angle": {"field": "deg", "type": "quantitative", "scale": null}}},
          {"data": {"name": "counts"}, "mark": {"type": "text", "fontWeight": "bold", "fontSize": 8, "color": "#111"}, "encoding": {"text": {"field": "t"}}},
          {"data": {"name": "boxes"}, "mark": {"type": "rect", "fill": "white", "stroke": "#555", "strokeWidth": 0.8}, "encoding": {"x2": {"field": "x2"}, "y2": {"field": "y2"}}},
          {"data": {"name": "boxLabels"}, "transform": [{"filter": "datum.b == 'IGF1' || datum.b == 'PECAM1'"}], "mark": {"type": "text", "fontWeight": "bold", "fontSize": 6.8}, "encoding": {"text": {"field": "t"}, "color": {"field": "b", "type": "nominal", "scale": {"domain": ["IL6","EXT","IGF1","PECAM1","AP1"], "range": ["#e064dc","#f0b048","#555555","#1a3fd0","#e81414"]}, "legend": null}}},
          {"data": {"name": "boxLabels"}, "transform": [{"filter": "datum.b != 'IGF1' && datum.b != 'PECAM1'"}], "mark": {"type": "text", "fontWeight": "bold", "fontSize": 5.9}, "encoding": {"text": {"field": "t"}, "color": {"field": "b", "type": "nominal", "scale": {"domain": ["IL6","EXT","IGF1","PECAM1","AP1"], "range": ["#e064dc","#f0b048","#555555","#1a3fd0","#e81414"]}, "legend": null}}},
          {"data": {"name": "legendD"}, "mark": {"type": "text", "align": "left", "fontWeight": "bold", "fontSize": 10}, "encoding": {"text": {"field": "set"}, "color": {"field": "set", "type": "nominal", "scale": {"domain": ["Inflammasome","Thrombosome","Fibrosome"], "range": ["#f07e7e","#21999a","#f4a23c"]}, "legend": null}}},
          {"data": {"values": [{"x": 72, "y": 21}]}, "mark": {"type": "text", "fontWeight": "bold", "fontSize": 11, "color": "#000"}, "encoding": {"text": {"value": "D"}}}
        ],
        "resolve": {"scale": {"color": "independent", "size": "independent"}}
      }
    ],
    "spacing": 0,
    "resolve": {"scale": {"color": "independent"}, "legend": {"color": "independent"}}
  }
],
"spacing": 5,
"resolve": {"scale": {"color": "independent"}, "legend": {"color": "independent"}}
}
